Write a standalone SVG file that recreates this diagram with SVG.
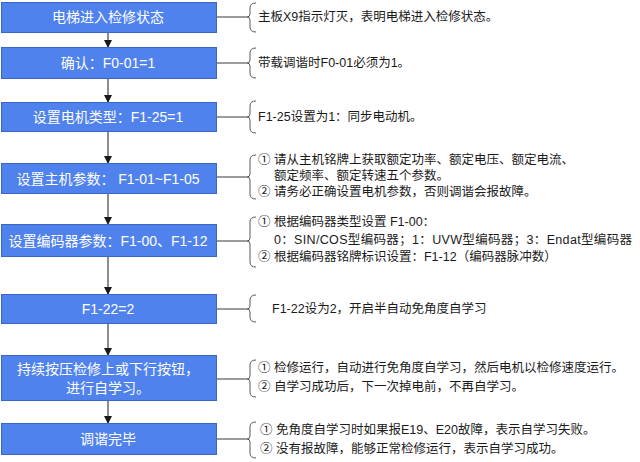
<svg xmlns="http://www.w3.org/2000/svg" width="640" height="462" viewBox="0 0 640 462">
<defs>
<marker id="ah" markerWidth="8" markerHeight="8" refX="7" refY="4" orient="auto" markerUnits="userSpaceOnUse">
<path d="M0,0 L8,4 L0,8 Z" fill="#1a1a1a"/>
</marker>
<style>
.box{fill:#5082EE;stroke:#3A66C4;stroke-width:1}
.bt{fill:#ffffff;font-family:"Liberation Sans","Noto Sans CJK SC",sans-serif;font-size:14px;text-anchor:middle;dominant-baseline:central}
.tx{fill:#1a1a1a;font-family:"Liberation Sans","Noto Sans CJK SC",sans-serif;font-size:12.5px;dominant-baseline:central}
.arr{stroke:#1a1a1a;stroke-width:1;fill:none}
.ln{stroke:#595959;stroke-width:1.2;fill:none}
.br{stroke:#595959;stroke-width:1;fill:none}
</style>
</defs>
<rect width="640" height="462" fill="#ffffff"/>
<g id="connectors">
<line class="arr" x1="108" y1="32" x2="108" y2="47" marker-end="url(#ah)"/>
<line class="arr" x1="108" y1="79" x2="108" y2="102" marker-end="url(#ah)"/>
<line class="arr" x1="108" y1="132" x2="108" y2="163" marker-end="url(#ah)"/>
<line class="arr" x1="108" y1="194" x2="108" y2="224" marker-end="url(#ah)"/>
<line class="arr" x1="108" y1="257" x2="108" y2="294" marker-end="url(#ah)"/>
<line class="arr" x1="108" y1="324" x2="108" y2="355" marker-end="url(#ah)"/>
<line class="arr" x1="108" y1="401" x2="108" y2="423" marker-end="url(#ah)"/>
<line class="ln" x1="216" y1="17" x2="247" y2="17"/>
<line class="ln" x1="216" y1="63" x2="247" y2="63"/>
<line class="ln" x1="216" y1="117" x2="247" y2="117"/>
<line class="ln" x1="216" y1="177" x2="247" y2="177"/>
<line class="ln" x1="216" y1="241" x2="247" y2="241"/>
<line class="ln" x1="216" y1="309" x2="247" y2="309"/>
<line class="ln" x1="216" y1="379" x2="247" y2="379"/>
<line class="ln" x1="216" y1="439" x2="247" y2="439"/>
</g>
<g id="n1">
<rect class="box" x="1.5" y="2.5" width="215" height="30"/>
<text class="bt" x="108" y="17">电梯进入检修状态</text>
<path class="br" d="M256,3 Q250,3 250,8 L250,14 Q250,17 247,17 Q250,17 250,20 L250,27 Q250,32 256,32"/>
<text class="tx" x="258" y="17">主板X9指示灯灭，表明电梯进入检修状态。</text>
</g>
<g id="n2">
<rect class="box" x="1.5" y="47.5" width="215" height="31"/>
<text class="bt" x="108" y="63">确认：F0-01=1</text>
<path class="br" d="M256,48 Q250,48 250,53 L250,60 Q250,63 247,63 Q250,63 250,66 L250,73 Q250,78 256,78"/>
<text class="tx" x="258" y="63">带载调谐时F0-01必须为1。</text>
</g>
<g id="n3">
<rect class="box" x="1.5" y="102.5" width="215" height="29"/>
<text class="bt" x="108" y="117">设置电机类型：F1-25=1</text>
<path class="br" d="M256,101 Q250,101 250,106 L250,114 Q250,117 247,117 Q250,117 250,120 L250,128 Q250,133 256,133"/>
<text class="tx" x="258" y="117">F1-25设置为1：同步电动机。</text>
</g>
<g id="n4">
<rect class="box" x="1.5" y="163.5" width="215" height="30"/>
<text class="bt" x="108" y="179">设置主机参数： F1-01~F1-05</text>
<path class="br" d="M256,155 Q250,155 250,160 L250,174 Q250,177 247,177 Q250,177 250,180 L250,194 Q250,199 256,199"/>
<text class="tx" x="258" y="160">①  请从主机铭牌上获取额定功率、额定电压、额定电流、</text>
<text class="tx" x="274" y="176">额定频率、额定转速五个参数。</text>
<text class="tx" x="258" y="192">②  请务必正确设置电机参数，否则调谐会报故障。</text>
</g>
<g id="n5">
<rect class="box" x="1.5" y="224.5" width="215" height="32"/>
<text class="bt" x="108" y="241">设置编码器参数：F1-00、F1-12</text>
<path class="br" d="M256,217 Q250,217 250,222 L250,238 Q250,241 247,241 Q250,241 250,244 L250,262 Q250,267 256,267"/>
<text class="tx" x="258" y="222">①  根据编码器类型设置 F1-00：</text>
<text class="tx" x="274" y="240" textLength="358" lengthAdjust="spacing">0：SIN/COS型编码器；1：UVW型编码器；3：Endat型编码器</text>
<text class="tx" x="258" y="257">②  根据编码器铭牌标识设置：F1-12（编码器脉冲数）</text>
</g>
<g id="n6">
<rect class="box" x="1.5" y="294.5" width="215" height="29"/>
<text class="bt" x="108" y="309">F1-22=2</text>
<path class="br" d="M256,295 Q250,295 250,300 L250,306 Q250,309 247,309 Q250,309 250,312 L250,317 Q250,322 256,322"/>
<text class="tx" x="272" y="309">F1-22设为2，开启半自动免角度自学习</text>
</g>
<g id="n7">
<rect class="box" x="1.5" y="355.5" width="215" height="45"/>
<text class="bt" x="108" y="369">持续按压检修上或下行按钮，</text>
<text class="bt" x="108" y="388">进行自学习。</text>
<path class="br" d="M256,360 Q250,360 250,365 L250,376 Q250,379 247,379 Q250,379 250,382 L250,392 Q250,397 256,397"/>
<text class="tx" x="258" y="368">①  检修运行，自动进行免角度自学习，然后电机以检修速度运行。</text>
<text class="tx" x="258" y="387">②  自学习成功后，下一次掉电前，不再自学习。</text>
</g>
<g id="n8">
<rect class="box" x="1.5" y="423.5" width="215" height="31"/>
<text class="bt" x="108" y="439">调谐完毕</text>
<path class="br" d="M256,422 Q250,422 250,427 L250,436 Q250,439 247,439 Q250,439 250,442 L250,453 Q250,458 256,458"/>
<text class="tx" x="260" y="430">①   免角度自学习时如果报E19、E20故障，表示自学习失败。</text>
<text class="tx" x="260" y="449">②   没有报故障，能够正常检修运行，表示自学习成功。</text>
</g>
</svg>
